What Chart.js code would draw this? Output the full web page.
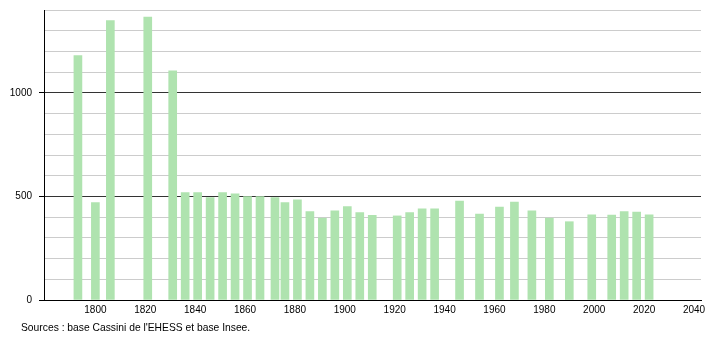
<!DOCTYPE html>
<html>
<head>
<meta charset="utf-8">
<script src="https://cdn.jsdelivr.net/npm/chart.js@4/dist/chart.umd.min.js"></script>
<style>
  html, body { margin: 0; padding: 0; background: #fff; }
  #wrap { position: relative; width: 710px; height: 340px; }
  #sources {
    position: absolute; left: 21px; top: 322px;
    font: 10.3px "Liberation Sans", Arial, sans-serif; color: #000;
    white-space: nowrap;
  }
</style>
</head>
<body>
<div id="wrap">
  <canvas id="popChart" width="710" height="340"></canvas>
  <div id="sources">Sources : base Cassini de l'EHESS et base Insee.</div>
</div>
<script>
// années de recensement et population
const years = [1793, 1800, 1806, 1821, 1831, 1836, 1841, 1846, 1851, 1856, 1861, 1866,
  1872, 1876, 1881, 1886, 1891, 1896, 1901, 1906, 1911, 1921, 1926, 1931, 1936,
  1946, 1954, 1962, 1968, 1975, 1982, 1990, 1999, 2007, 2012, 2017, 2022];
const population = [1180, 470, 1349, 1366, 1106, 518, 518, 494, 518, 512, 499, 499,
  495, 470, 483, 427, 395, 430, 451, 422, 409, 406, 422, 440, 440,
  478, 415, 449, 473, 431, 395, 378, 411, 410, 427, 425, 411];
const xTicks = [1800, 1820, 1840, 1860, 1880, 1900, 1920, 1940, 1960, 1980, 2000, 2020, 2040];
const yLabels = [0, 500, 1000];
const yMajor = [500, 1000];

const font = { family: "'Liberation Sans', Arial, sans-serif", size: 10 };

new Chart(document.getElementById("popChart"), {
  type: "bar",
  data: {
    datasets: [{
      data: years.map((y, i) => ({ x: y, y: population[i] })),
      backgroundColor: "rgb(175,227,175)",
      borderWidth: 0,
      barThickness: 8
    }]
  },
  options: {
    responsive: false,
    animation: false,
    layout: { padding: { top: 10, right: 9, left: 0, bottom: 0 } },
    plugins: { legend: { display: false }, tooltip: { enabled: false } },
    scales: {
      x: {
        type: "linear",
        offset: false,
        min: 1779.4,
        max: 2042.8,
        afterBuildTicks: s => { s.ticks = xTicks.map(v => ({ value: v })); },
        afterFit: s => { s.height = 40; s.paddingLeft = 0; s.paddingRight = 0; },
        grid: { display: false, drawTicks: false, offset: false },
        border: { color: "#000", width: 1 },
        ticks: { color: "#000", font, padding: 4, maxRotation: 0, callback: v => String(v) }
      },
      y: {
        min: 0,
        max: 1400,
        afterFit: s => { s.width = 44; s.paddingTop = 0; s.paddingBottom = 0; },
        border: { color: "#000", width: 1 },
        grid: {
          color: c => yMajor.includes(c.tick.value) ? "#333" : "#ccc",
          tickColor: c => yLabels.includes(c.tick.value) ? "#000" : "rgba(0,0,0,0)",
          tickLength: 5,
          lineWidth: 1
        },
        ticks: {
          stepSize: 100,
          color: "#000",
          font,
          padding: 7,
          callback: v => yLabels.includes(v) ? String(v) : ""
        }
      }
    }
  }
});
</script>
</body>
</html>
